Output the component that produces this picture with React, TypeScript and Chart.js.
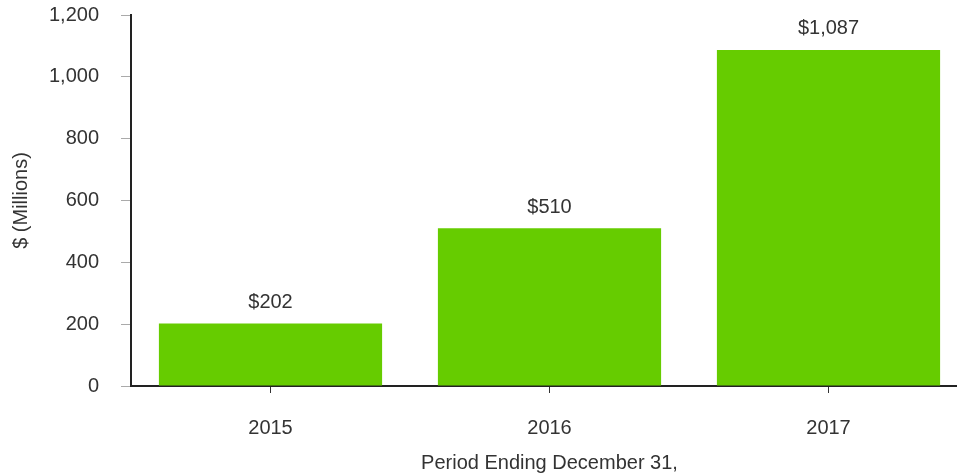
import React, { useEffect, useRef } from "react";
import { Chart, registerables } from "chart.js";

Chart.register(...registerables);

const categories = ["2015", "2016", "2017"];
const values = [202, 510, 1087];
const yTicks = [0, 200, 400, 600, 800, 1000, 1200];
const xTitle = "Period Ending December 31,";
const yTitle = "$ (Millions)";

const FONT = '"Liberation Sans", Arial, Helvetica, sans-serif';
const TEXT = "#333333";

const dataLabels = {
  id: "dataLabels",
  afterDatasetsDraw(chart: any) {
    const ctx = chart.ctx;
    const meta = chart.getDatasetMeta(0);
    ctx.save();
    ctx.font = `20px ${FONT}`;
    ctx.fillStyle = TEXT;
    ctx.textAlign = "center";
    ctx.textBaseline = "middle";
    meta.data.forEach((bar: any, i: number) => {
      const v = chart.data.datasets[0].data[i] as number;
      ctx.fillText("$" + v.toLocaleString("en-US"), bar.x, bar.y - 21);
    });
    ctx.restore();
  },
};

export default function App() {
  const ref = useRef<HTMLCanvasElement | null>(null);
  useEffect(() => {
    if (!ref.current) return;
    const chart = new Chart(ref.current, {
      type: "bar",
      data: {
        labels: categories,
        datasets: [
          {
            data: values,
            backgroundColor: "#66CC00",
            borderWidth: 0,
            categoryPercentage: 1,
            barPercentage: 0.8,
          },
        ],
      },
      options: {
        responsive: false,
        animation: false,
        devicePixelRatio: 1,
        layout: { padding: { top: 15, right: 7, left: 0, bottom: 0 } },
        plugins: { legend: { display: false }, tooltip: { enabled: false } },
        scales: {
          x: {
            grid: {
              offset: false,
              drawOnChartArea: false,
              drawTicks: true,
              tickLength: 7,
              color: "#333",
            },
            border: { display: true, color: "#222", width: 2 },
            ticks: { color: TEXT, font: { size: 20, family: FONT }, padding: 23 },
            title: {
              display: true,
              text: xTitle,
              color: TEXT,
              font: { size: 20, family: FONT },
              padding: { top: 0, bottom: 1 },
            },
            afterFit: (s: any) => {
              s.height = 90;
              s.paddingLeft = 0;
              s.paddingRight = 0;
            },
          },
          y: {
            min: 0,
            max: 1200,
            afterBuildTicks: (s: any) => {
              s.ticks = yTicks.map((v) => ({ value: v }));
            },
            grid: {
              drawOnChartArea: false,
              drawTicks: true,
              tickLength: 10,
              color: "#aaa",
            },
            border: { display: true, color: "#222", width: 2 },
            ticks: { color: TEXT, font: { size: 20, family: FONT }, padding: 22 },
            title: {
              display: true,
              text: yTitle,
              color: TEXT,
              font: { size: 20, family: FONT },
              padding: { top: 9, bottom: 0 },
            },
            afterFit: (s: any) => {
              s.width = 131;
              s.paddingTop = 0;
              s.paddingBottom = 0;
            },
          },
        },
      },
      plugins: [dataLabels],
    });
    return () => chart.destroy();
  }, []);
  return (
    <div
      style={{
        position: "absolute",
        left: 0,
        top: 0,
        width: 957,
        height: 476,
        overflow: "hidden",
      }}
    >
      <canvas ref={ref} width={975} height={476} style={{ display: "block" }} />
    </div>
  );
}
